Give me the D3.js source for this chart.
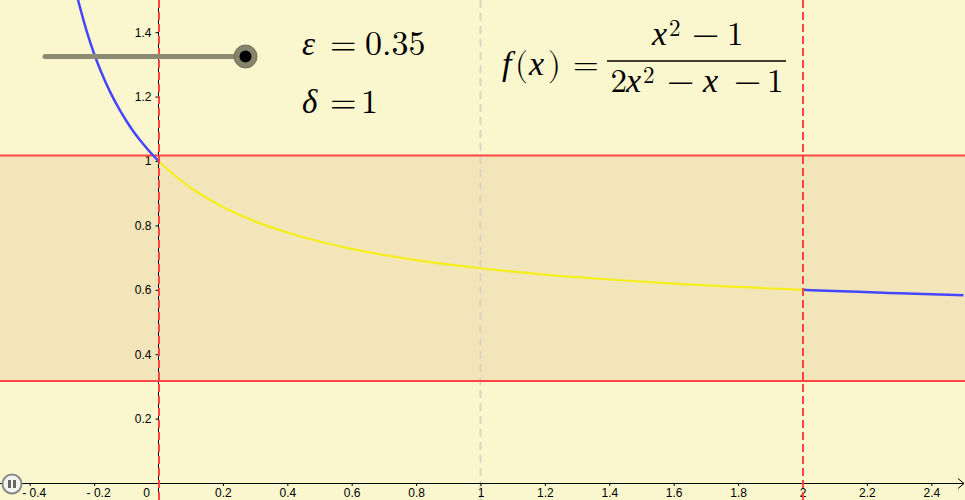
<!DOCTYPE html>
<html>
<head>
<meta charset="utf-8">
<script src="https://cdn.jsdelivr.net/npm/d3@7/dist/d3.min.js"></script>
<style>
  html, body { margin: 0; padding: 0; background: #faf6cd; }
  svg { display: block; }
</style>
</head>
<body>
<svg id="chart" width="965" height="500"></svg>
<script>
// ---- data ----
const epsilon = 0.35;
const delta = 1;
const limitL = 0.667;
const bandLow = 0.317;
const bandHigh = 1.017;
const deltaLines = [0, 2];
const centerLine = [1];

const leftX = [-0.25, -0.22, -0.2, -0.18, -0.15, -0.12, -0.1, -0.08, -0.05, -0.02, 0];
const leftY = [1.5, 1.393, 1.333, 1.281, 1.214, 1.158, 1.125, 1.095, 1.056, 1.021, 1.0];

const midX = [0, 0.05, 0.1, 0.15, 0.2, 0.3, 0.4, 0.5, 0.6, 0.8, 1.0, 1.2, 1.4, 1.6, 1.8, 2.0];
const midY = [1.0, 0.955, 0.917, 0.885, 0.857, 0.8125, 0.778, 0.75, 0.727, 0.692, 0.667, 0.647, 0.632, 0.619, 0.609, 0.6];

const rightX = [2.0, 2.1, 2.25, 2.3, 2.5];
const rightY = [0.6, 0.596, 0.591, 0.589, 0.583];

const xTicks = [-0.4, -0.2, 0.2, 0.4, 0.6, 0.8, 1, 1.2, 1.4, 1.6, 1.8, 2, 2.2, 2.4];
const xTickLabels = ["- 0.4", "- 0.2", "0.2", "0.4", "0.6", "0.8", "1", "1.2", "1.4", "1.6", "1.8", "2", "2.2", "2.4"];
const yTicks = [0.2, 0.4, 0.6, 0.8, 1, 1.2, 1.4];
const yTickLabels = ["0.2", "0.4", "0.6", "0.8", "1", "1.2", "1.4"];

// ---- drawing ----
const W = 965, H = 500;
const SANS = '"Liberation Sans", "DejaVu Sans", sans-serif';
const MATH = '"Latin Modern Math", "Liberation Serif", serif';
const ITAL = '"Liberation Serif", "Latin Modern Math", serif';
const svg = d3.select("#chart");
const x = d3.scaleLinear().domain([-158.5 / 322, (W - 158.5) / 322]).range([0, W]);
const y = d3.scaleLinear().domain([(483 - H) / 322, 483 / 322]).range([H, 0]);

svg.append("rect").attr("width", W).attr("height", H).attr("fill", "#faf6cd");

// epsilon band
svg.append("rect")
  .attr("x", 0).attr("width", W)
  .attr("y", y(bandHigh)).attr("height", y(bandLow) - y(bandHigh))
  .attr("fill", "#f2e5b9");

// center dashed grey line
svg.selectAll(".cl").data(centerLine).join("line")
  .attr("x1", d => x(d)).attr("x2", d => x(d))
  .attr("y1", 0).attr("y2", H)
  .attr("stroke", "#d9d6c4").attr("stroke-width", 2).attr("stroke-dasharray", "8,5");

// x axis
const xAxis = d3.axisBottom(x).tickValues(xTicks).tickSize(3).tickSizeOuter(0)
  .tickPadding(2)
  .tickFormat((d, i) => xTickLabels[i]);
const gx = svg.append("g").attr("transform", "translate(0,483)").call(xAxis);
gx.select(".domain").remove();
gx.selectAll(".tick line").attr("stroke", "#000");
gx.selectAll(".tick text")
  .style("font-family", SANS).style("font-size", "12px").attr("fill", "#000")
  .attr("dx", (d) => d < 0 ? 4 : 0);
svg.append("line").attr("x1", 0).attr("x2", W - 1).attr("y1", 483.5).attr("y2", 483.5)
  .attr("stroke", "#000").attr("stroke-width", 1);
svg.append("path").attr("d", `M${W - 7},478.5 L${W - 1},483.5 L${W - 7},488.5`)
  .attr("fill", "none").attr("stroke", "#000").attr("stroke-width", 1);

// y axis
const yAxis = d3.axisLeft(y).tickValues(yTicks).tickSize(3).tickSizeOuter(0)
  .tickPadding(4)
  .tickFormat((d, i) => yTickLabels[i]);
const gy = svg.append("g").attr("transform", "translate(158.5,0)").call(yAxis);
gy.select(".domain").remove();
gy.selectAll(".tick line").attr("stroke", "#000");
gy.selectAll(".tick text")
  .style("font-family", SANS).style("font-size", "12px").attr("fill", "#000");
svg.append("line").attr("x1", 158.5).attr("x2", 158.5).attr("y1", 0).attr("y2", H)
  .attr("stroke", "#000").attr("stroke-width", 1);
svg.append("text").attr("x", 150).attr("y", 497).attr("text-anchor", "end")
  .style("font-family", SANS).style("font-size", "12px").text("0");

// band boundary lines
svg.selectAll(".bl").data([bandHigh, bandLow]).join("line")
  .attr("x1", 0).attr("x2", W)
  .attr("y1", d => y(d)).attr("y2", d => y(d))
  .attr("stroke", "#ff4444").attr("stroke-width", 2);

// curves
const line = d3.line().x(d => x(d[0])).y(d => y(d[1])).curve(d3.curveMonotoneX);
svg.append("path").datum(leftX.map((v, i) => [v, leftY[i]]))
  .attr("d", line).attr("fill", "none").attr("stroke", "#4646ff").attr("stroke-width", 2.5);
svg.append("path").datum(midX.map((v, i) => [v, midY[i]]))
  .attr("d", line).attr("fill", "none").attr("stroke", "#f4ef1c").attr("stroke-width", 2.2);
svg.append("path").datum(rightX.map((v, i) => [v, rightY[i]]))
  .attr("d", line).attr("fill", "none").attr("stroke", "#4646ff").attr("stroke-width", 2.5);

// delta dashed lines
svg.selectAll(".dl").data(deltaLines).join("line")
  .attr("x1", d => x(d) + 0.5).attr("x2", d => x(d) + 0.5)
  .attr("y1", 0).attr("y2", H)
  .attr("stroke", "#ff4444").attr("stroke-width", 2).attr("stroke-dasharray", "8,4");

// slider
svg.append("line").attr("x1", 45).attr("x2", 245).attr("y1", 56.5).attr("y2", 56.5)
  .attr("stroke", "#8c8a72").attr("stroke-width", 5).attr("stroke-linecap", "round");
svg.append("circle").attr("cx", 245.5).attr("cy", 56.5).attr("r", 11.5)
  .attr("fill", "#87846c").attr("stroke", "#6f6d5c").attr("stroke-width", 1);
svg.append("circle").attr("cx", 245.5).attr("cy", 56.5).attr("r", 6).attr("fill", "#000");

// pause button
svg.append("circle").attr("cx", 12).attr("cy", 484).attr("r", 9.5)
  .attr("fill", "#f3f3f0").attr("stroke", "#8a8a8a").attr("stroke-width", 2);
svg.append("rect").attr("x", 8).attr("y", 480).attr("width", 3).attr("height", 8).attr("fill", "#666");
svg.append("rect").attr("x", 13).attr("y", 480).attr("width", 3).attr("height", 8).attr("fill", "#666");

// math text
function glyph(t, gx, gy, size, italic) {
  svg.append("text").attr("x", gx).attr("y", gy)
    .style("font-family", italic ? ITAL : MATH)
    .style("font-size", size + "px")
    .style("font-style", italic ? "italic" : "normal")
    .attr("fill", "#000").text(t);
}
// epsilon line
glyph("ε", 302, 55, 33, true);
glyph("=", 330, 55, 34, false);
glyph(epsilon.toFixed(2), 365, 55, 34, false);
// delta line
glyph("δ", 302, 113, 33, true);
glyph("=", 330, 113, 34, false);
glyph(String(delta), 361, 113, 34, false);
// f(x) = fraction
glyph("f", 502, 75, 34, true);
glyph("(", 515, 75, 33, false);
glyph("x", 529, 75, 34, true);
glyph(")", 548, 75, 33, false);
glyph("=", 573, 75, 33, false);
// numerator
glyph("x", 652, 45, 34, true);
glyph("2", 669, 36, 23, false);
glyph("−", 692, 45, 35, false);
glyph("1", 727, 45, 33, false);
// bar
svg.append("line").attr("x1", 607).attr("x2", 786).attr("y1", 61).attr("y2", 61)
  .attr("stroke", "#000").attr("stroke-width", 1.5);
// denominator
glyph("2", 610.5, 92, 33, false);
glyph("x", 626, 92, 34, true);
glyph("2", 643, 83, 23, false);
glyph("−", 667, 92, 35, false);
glyph("x", 703, 92, 34, true);
glyph("−", 734, 92, 35, false);
glyph("1", 767, 92, 33, false);
</script>
</body>
</html>
